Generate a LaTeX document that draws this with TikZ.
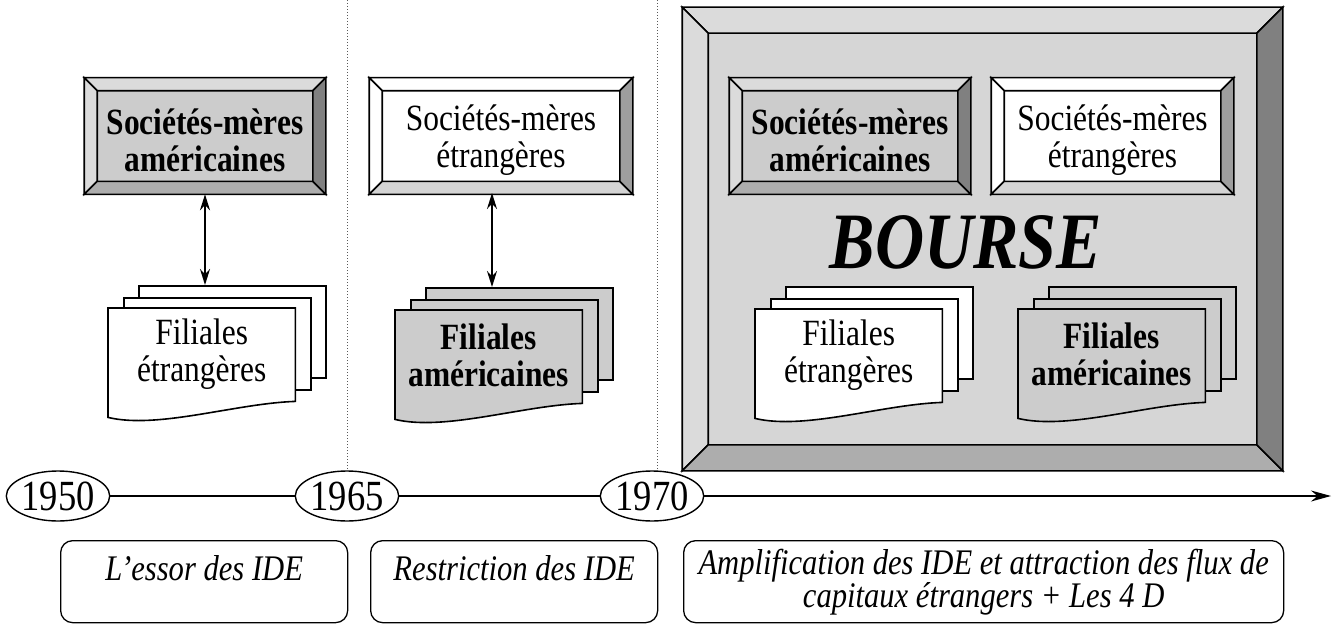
\documentclass[tikz,border=0pt]{standalone}
\usepackage{fontspec}
\setmainfont[FakeStretch=0.85]{Liberation Serif}
\usetikzlibrary{calc,arrows.meta,shapes.geometric}
\definecolor{faceS}{gray}{0.80}
\definecolor{bevL}{gray}{0.86}
\definecolor{bevB}{gray}{0.68}
\definecolor{bevR}{gray}{0.50}
\definecolor{wbevB}{gray}{0.83}
\definecolor{wbevR}{gray}{0.62}
\definecolor{bourseface}{gray}{0.84}
\definecolor{dotgray}{gray}{0.35}

% bevel frame drawn over a rectangular node: name, depth, top, left, bottom, right colours
\newcommand{\bevelframe}[6]{%
  \filldraw[fill=#3,edge] (#1.north west) -- (#1.north east) -- ($(#1.north east)+(-#2,-#2)$) -- ($(#1.north west)+(#2,-#2)$) -- cycle;
  \filldraw[fill=#4,edge] (#1.north west) -- (#1.south west) -- ($(#1.south west)+(#2,#2)$) -- ($(#1.north west)+(#2,-#2)$) -- cycle;
  \filldraw[fill=#5,edge] (#1.south west) -- (#1.south east) -- ($(#1.south east)+(-#2,#2)$) -- ($(#1.south west)+(#2,#2)$) -- cycle;
  \filldraw[fill=#6,edge] (#1.north east) -- (#1.south east) -- ($(#1.south east)+(-#2,#2)$) -- ($(#1.north east)+(-#2,-#2)$) -- cycle;
}
% stack of three document sheets: prefix, x, y (top-left of front sheet, y downwards), fill
\newcommand{\docstack}[4]{%
  \node[sheet,fill=#4] (#1back) at ({#2+30},{-#3+23}) {};
  \node[sheet,fill=#4] (#1mid) at ({#2+15},{-#3+11}) {};
  \node[frontsheet] (#1front) at (#2,-#3) {};
  \filldraw[fill=#4,edge] (#1front.north west) -- (#1front.north east) -- ($(#1front.south east)+(0,16)$)
     .. controls ($(#1front.south east)+(-60,14)$) and ($(#1front.south west)+(50,-12)$) .. (#1front.south west) -- cycle;
}

\begin{document}
\begin{tikzpicture}[x=1pt,y=1pt,
  edge/.style={draw=black,line width=1.6pt,line join=miter},
  bevelbox/.style={draw=black,line width=1.6pt,minimum width=240pt,minimum height=115pt,inner sep=0pt},
  boldtxt/.style={font=\fontsize{37}{37}\selectfont\bfseries,align=center},
  regtxt/.style={font=\fontsize{37}{37}\selectfont,align=center},
  ittxt/.style={font=\fontsize{36}{33}\selectfont\itshape,align=center},
  sheet/.style={draw=black,line width=1.6pt,minimum width=187pt,minimum height=92pt,anchor=north west,inner sep=0pt},
  frontsheet/.style={minimum width=187pt,minimum height=109pt,anchor=north west,inner sep=0pt},
  year/.style={ellipse,draw,fill=white,line width=1.4pt,minimum width=96pt,minimum height=50pt,inner sep=0pt,font=\fontsize{43}{43}\selectfont},
  period/.style={draw,line width=1.3pt,rounded corners=12pt,minimum height=82pt,anchor=north west,inner sep=0pt},
  dbl/.style={{Stealth[length=16pt,width=10pt]}-{Stealth[length=16pt,width=10pt]},line width=1.6pt},
  vdot/.style={dotted,line width=1pt,dotgray}
]
\useasboundingbox (0,0) rectangle (1336,-626);

% timeline
\node[year] (y1950) at (58,-496) {1950};
\node[year] (y1965) at (347,-496) {1965};
\node[year] (y1970) at (652,-496) {1970};
\coordinate (tend) at (1331,-496);
\draw[line width=1.4pt] (y1950) -- (y1965);
\draw[line width=1.4pt] (y1965) -- (y1970);
\draw[line width=1.4pt,-{Stealth[length=20pt,width=11pt]}] (y1970) -- (tend);

% dotted separators
\coordinate (d1) at (347,0);
\coordinate (d2) at (657,0);
\draw[vdot] (d1) -- (y1965.north);
\draw[vdot] (d2) -- (d2 |- y1970.north);

% period 1950
\node[bevelbox,fill=faceS] (smaA) at (205,-136) {};
\bevelframe{smaA}{13}{bevL}{bevL}{bevB}{bevR}
\node[boldtxt] (smaAt) at ($(smaA.center)+(0,-4)$) {Sociétés-mères\\américaines};
\docstack{fe}{108}{308}{white}
\node[regtxt] (fet) at ($(fefront.center)+(0,9)$) {Filiales\\étrangères};
\draw[dbl] (smaA.south) -- (smaA.south |- feback.north);

% period 1965
\node[bevelbox,minimum width=262pt,fill=white] (smeB) at (501,-136) {};
\bevelframe{smeB}{13}{white}{white}{wbevB}{wbevR}
\node[regtxt] (smeBt) at ($(smeB.center)+(0,-4)$) {Sociétés-mères\\étrangères};
\docstack{fa}{395}{310}{faceS}
\node[boldtxt] (fat) at ($(fafront.center)+(0,9)$) {Filiales\\américaines};
\coordinate (smeBs) at (492,-193);
\draw[dbl] (smeBs) -- (smeBs |- faback.north);

% period 1970: Bourse
\node[bevelbox,minimum width=599pt,minimum height=462pt,fill=bourseface] (bourse) at (982.5,-239) {};
\bevelframe{bourse}{26}{bevL}{bevL}{bevB}{bevR}
\node[bevelbox,fill=faceS] (smaC) at (850,-136) {};
\bevelframe{smaC}{13}{bevL}{bevL}{bevB}{bevR}
\node[boldtxt] (smaCt) at ($(smaC.center)+(0,-4)$) {Sociétés-mères\\américaines};
\node[bevelbox,minimum width=241pt,fill=white] (smeC) at (1112.5,-136) {};
\bevelframe{smeC}{13}{white}{white}{wbevB}{wbevR}
\node[regtxt] (smeCt) at ($(smeC.center)+(0,-4)$) {Sociétés-mères\\étrangères};
\node[font=\fontsize{80}{80}\selectfont\bfseries\itshape] (boursetxt) at (966,-242) {BOURSE};
\docstack{ge}{755}{309}{white}
\node[regtxt] (get) at ($(gefront.center)+(0,9)$) {Filiales\\étrangères};
\docstack{ga}{1018}{309}{faceS}
\node[boldtxt] (gat) at ($(gafront.center)+(0,9)$) {Filiales\\américaines};

% period descriptions
\node[period,minimum width=287pt] (p1) at (60,-540) {};
\node[ittxt] (p1t) at ($(p1.north)+(0,-28)$) {L’essor des IDE};
\node[period,minimum width=287pt] (p2) at (370,-540) {};
\node[ittxt] (p2t) at ($(p2.north)+(0,-28)$) {Restriction des IDE};
\node[period,minimum width=600pt] (p3) at (683,-540) {};
\node[ittxt] (p3t) at ($(p3.north)+(0,-42)$) {Amplification des IDE et attraction des flux de\\capitaux étrangers + Les 4 D};
\end{tikzpicture}
\end{document}
